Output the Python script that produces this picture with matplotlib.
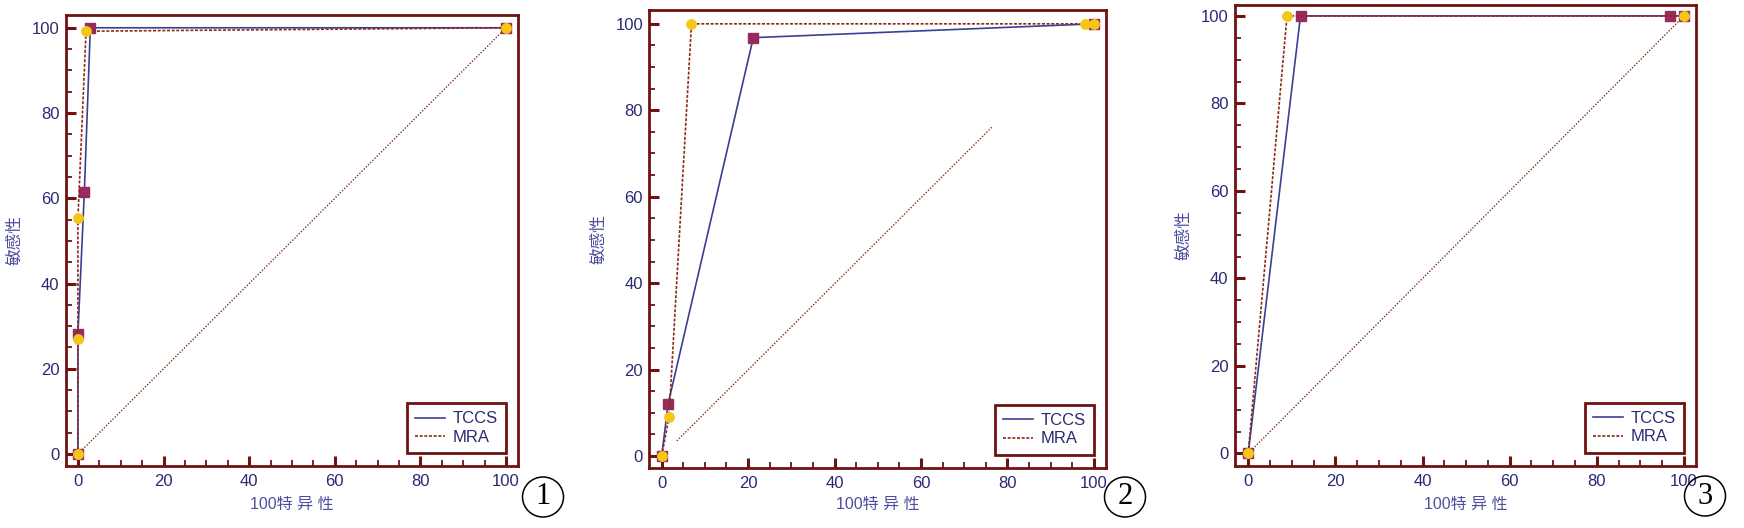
import matplotlib
matplotlib.use("Agg")
import matplotlib.pyplot as plt
from matplotlib.patches import Ellipse
from matplotlib.lines import Line2D
from matplotlib.ticker import MultipleLocator, FixedLocator

plt.rcParams['font.family'] = ['Liberation Sans', 'Noto Sans CJK SC', 'DejaVu Sans']

# ---------------- data ----------------
series_names = ["TCCS", "MRA"]
panel_labels = ["1", "2", "3"]
xticks = [0, 20, 40, 60, 80, 100]
yticks = [0, 20, 40, 60, 80, 100]
xlabel_text = "100特 异 性"
ylabel_text = "敏感性"

# panel 1
p1_tccs_x = [0, 0, 1.5, 2.9, 100]
p1_tccs_y = [0, 28.2, 61.4, 100, 100]
p1_mra_x = [0, 0, 0, 1.9, 100]
p1_mra_y = [0, 27.1, 55.3, 99.2, 100]
p1_ref_x = [0, 100]
p1_ref_y = [0, 100]

# panel 2
p2_tccs_x = [0, 1.5, 21.2, 100]
p2_tccs_y = [0, 12.1, 96.8, 100]
p2_mra_x = [0, 1.7, 6.9, 98.0, 100]
p2_mra_y = [0, 9.0, 100, 100, 100]
p2_ref_x = [3.5, 76.5]
p2_ref_y = [3.5, 76.2]

# panel 3
p3_tccs_x = [0, 12.0, 96.7, 100]
p3_tccs_y = [0, 100, 100, 100]
p3_mra_x = [0, 8.9, 100]
p3_mra_y = [0, 100, 100]
p3_ref_x = [0, 100]
p3_ref_y = [0, 100]

panels = [
    (p1_tccs_x, p1_tccs_y, p1_mra_x, p1_mra_y, p1_ref_x, p1_ref_y),
    (p2_tccs_x, p2_tccs_y, p2_mra_x, p2_mra_y, p2_ref_x, p2_ref_y),
    (p3_tccs_x, p3_tccs_y, p3_mra_x, p3_mra_y, p3_ref_x, p3_ref_y),
]

# ---------------- style / layout ----------------
W, H = 1744, 528
FRAME = "#6e1212"
NAVY = "#2a2a72"
LABEL = "#4e4ea0"
BLUE = "#3a3f96"
DASHC = "#8a2a18"
REFC = "#8e2e1a"
SQ = "#962b5c"
CIRC = "#f5c518"

rects_px = [(65.5, 15, 518, 466), (649.3, 10, 1106, 467.7), (1234.7, 5, 1696, 465.7)]
xlims = [(-2.9, 102.8), (-2.86, 102.8), (-3.1, 102.75)]
ylims = [(-2.8, 103.0), (-2.7, 103.2), (-2.8, 102.5)]
circle_centers = [(543, 497), (1125, 497), (1705, 496)]

fig = plt.figure(figsize=(W / 100, H / 100), dpi=100)
fig.patch.set_facecolor("white")

for i, (rect, data) in enumerate(zip(rects_px, panels)):
    l, t, r, b = rect
    ax = fig.add_axes([l / W, 1 - b / H, (r - l) / W, (b - t) / H])
    tx, ty, mx, my, rx, ry = data
    ax.plot(rx, ry, color=REFC, lw=1.0, ls=(0, (1, 1.2)), zorder=2)
    ax.plot(tx, ty, color=BLUE, lw=1.2, marker="s", ms=6.8, mfc=SQ, mec=SQ, zorder=3)
    ax.plot(mx, my, color=DASHC, lw=1.2, dashes=(1.8, 1.0), marker="o", ms=6.8,
            mfc=CIRC, mec=CIRC, zorder=4)
    ax.set_xlim(*xlims[i])
    ax.set_ylim(*ylims[i])
    ax.xaxis.set_major_locator(FixedLocator(xticks))
    ax.yaxis.set_major_locator(FixedLocator(yticks))
    ax.xaxis.set_minor_locator(MultipleLocator(5))
    ax.yaxis.set_minor_locator(MultipleLocator(5))
    for s in ax.spines.values():
        s.set_color(FRAME)
        s.set_linewidth(2.0)
    ax.tick_params(which="major", direction="in", length=7.5, width=2.2, color=FRAME,
                   labelsize=12, labelcolor=NAVY)
    ax.tick_params(which="minor", direction="in", length=4.5, width=1.3, color=FRAME)
    ax.tick_params(axis="x", which="major", pad=6)
    ax.tick_params(axis="y", which="major", pad=4.5)
    ax.set_xlabel(xlabel_text, fontsize=11.5, color=LABEL)
    ax.set_ylabel(ylabel_text, fontsize=12, color=LABEL, family=["Noto Sans CJK SC"])
    hpx = b - t
    wpx = r - l
    ax.xaxis.set_label_coords(0.5, -(497 - b) / hpx)
    ax.yaxis.set_label_coords(-42 / wpx, 0.5)

    handles = [Line2D([], [], color=BLUE, lw=1.2),
               Line2D([], [], color=DASHC, lw=1.2, dashes=(1.8, 1.0))]
    x100 = (100 - xlims[i][0]) / (xlims[i][1] - xlims[i][0])
    leg = ax.legend(handles, series_names, loc="lower right",
                    bbox_to_anchor=(x100, 13 / hpx), borderaxespad=0,
                    fontsize=12, frameon=True, fancybox=False, handlelength=1.8,
                    handletextpad=0.45, labelspacing=0.2, borderpad=0.5)
    fr = leg.get_frame()
    fr.set_edgecolor(FRAME)
    fr.set_linewidth(2.0)
    fr.set_facecolor("white")
    fr.set_alpha(1)
    for tx_ in leg.get_texts():
        tx_.set_color(NAVY)

    cx, cy = circle_centers[i]
    fig.patches.append(Ellipse((cx / W, 1 - cy / H), 41 / W, 40 / H,
                               transform=fig.transFigure, fill=False,
                               ec="black", lw=1.1))
    fig.text(cx / W, 1 - cy / H, panel_labels[i], ha="center", va="center",
             fontsize=22, family=["Liberation Serif"], color="black")

fig.savefig("out.png", dpi=100, facecolor="white")
